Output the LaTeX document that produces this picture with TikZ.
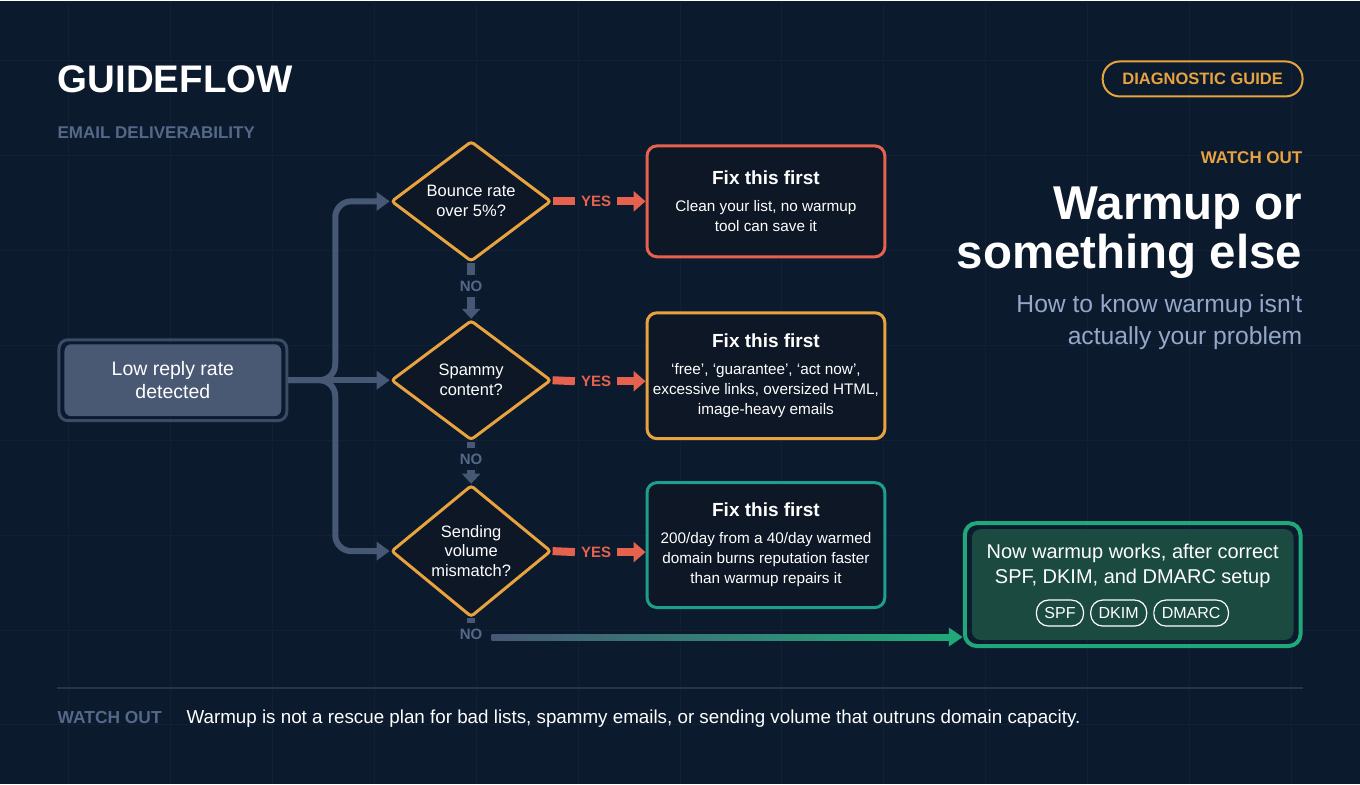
\documentclass[tikz,border=0pt]{standalone}
\usepackage{fontspec}
\setmainfont{Liberation Sans}[Ligatures=TeXOff]
\usepackage{tikz}
\usetikzlibrary{shapes,arrows.meta,positioning,calc,backgrounds}
\definecolor{pagebg}{RGB}{12,26,46}
\definecolor{gridline}{RGB}{18,32,53}
\definecolor{slateline}{RGB}{70,88,116}
\definecolor{slatetext}{RGB}{84,104,136}
\definecolor{startfill}{RGB}{73,89,115}
\definecolor{startedge}{RGB}{58,75,102}
\definecolor{boxfill}{RGB}{14,23,37}
\definecolor{warnorange}{RGB}{232,163,62}
\definecolor{yescoral}{RGB}{230,98,78}
\definecolor{fixteal}{RGB}{30,158,140}
\definecolor{okgreen}{RGB}{33,168,120}
\definecolor{okfill}{RGB}{27,74,64}
\definecolor{subtext}{RGB}{150,168,200}
\definecolor{sepline}{RGB}{38,52,76}
\newcommand{\sz}[2]{\fontsize{#1}{#2}\selectfont}
\newcommand{\fixhead}{{\bfseries\sz{19}{20}Fix this first}}

\begin{document}
\begin{tikzpicture}[x=1pt, y=-1pt,
    flow/.style={draw=slateline, line width=6pt, -{Triangle[length=13pt,width=18pt]}},
    decision/.style={diamond, draw=warnorange, line width=3pt, fill=boxfill, rounded corners=3pt,
        minimum width=160pt, minimum height=120pt, inner sep=0pt, align=center, text=white,
        font=\sz{16.5}{20}},
    fixbox/.style={rectangle, draw=#1, line width=3pt, rounded corners=10pt, fill=boxfill,
        minimum width=238pt, align=center, text=white, font=\sz{15.3}{20}},
    yeslabel/.style={font=\bfseries\sz{15}{18}, text=yescoral, inner xsep=6pt, inner ysep=0pt},
    yesbar/.style={draw=yescoral, line width=8pt},
    yesarrow/.style={draw=yescoral, line width=8pt, -{Triangle[length=12pt,width=20pt]}},
    nolabel/.style={font=\bfseries\sz{15}{18}, text=slatetext, inner xsep=7pt, inner ysep=5.5pt,
        text height=11pt, text depth=0pt},
    nobar/.style={draw=slateline, line width=8pt},
    noarrow/.style={draw=slateline, line width=8pt, -{Triangle[length=10pt,width=18pt]}},
    pill/.style={draw=white, line width=1.2pt, rounded corners=12pt, minimum height=26pt,
        inner xsep=8pt, inner ysep=0pt, text=white, font=\sz{16}{18}}]

    % Page and faint grid
    \begin{scope}[on background layer]
        \fill[pagebg] (0,0) rectangle (1360,784);
        \foreach \k in {0,...,12}
            \draw[gridline, line width=1pt] ({68+102*\k},0) -- ++(0,784);
        \foreach \k in {0,...,7}
            \draw[gridline, line width=1pt] (0,{60+95*\k}) -- ++(1360,0);
    \end{scope}

    % Headings
    \node[anchor=base west, inner sep=0pt, font=\bfseries\sz{38.5}{40}, text=white] (brand) at (57,92) {GUIDEFLOW};
    \node[anchor=base west, inner sep=0pt, font=\bfseries\sz{17}{18}, text=slatetext] (topic) at (57,138) {EMAIL DELIVERABILITY};
    \node[draw=warnorange, line width=2pt, rounded corners=17pt, minimum width=200pt, minimum height=35pt,
        font=\bfseries\sz{16.5}{18}, text=warnorange] (badge) at (1203,78.5) {DIAGNOSTIC GUIDE};
    \node[anchor=base east, inner sep=0pt, font=\bfseries\sz{17}{18}, text=warnorange] (kicker) at (1303,163) {WATCH OUT};
    \node[anchor=east, inner sep=0pt, align=right, font=\bfseries\sz{47.5}{49}, text=white] (headline) at (1303,232) {Warmup or\\something else};
    \node[anchor=east, inner sep=0pt, align=right, font=\sz{24.7}{32}, text=subtext] (subline) at (1303,322) {How to know warmup isn't\\actually your problem};

    % Start node
    \node[draw=startedge, line width=3pt, rounded corners=9pt, minimum width=228pt, minimum height=81pt,
        align=center, text=white, font=\sz{19.5}{23}] (start) at (172.5,380) {Low reply rate\\detected};

    % Decisions
    \node[decision] (d1) at (471,201) {Bounce rate\\over 5\%?};
    \node[decision] (d2) at (471,380) {Spammy\\content?};
    \node[decision] (d3) at (471,551) {Sending\\volume\\mismatch?};

    % Fix boxes
    \node[fixbox=yescoral, minimum height=111pt] (fix1) at (766,201) {\fixhead\\[7pt]Clean your list, no warmup\\tool can save it};
    \node[fixbox=warnorange, minimum height=126pt] (fix2) at (766,375.5) {\fixhead\\[7pt]‘free’, ‘guarantee’, ‘act now’,\\excessive links, oversized HTML,\\image-heavy emails};
    \node[fixbox=fixteal, minimum height=125pt] (fix3) at (766,545) {\fixhead\\[7pt]200/day from a 40/day warmed\\domain burns reputation faster\\than warmup repairs it};

    % Final box
    \node[draw=okgreen, line width=4pt, rounded corners=12pt, minimum width=336pt, minimum height=123pt] (fin) at (1133,584.5) {};
    \node[align=center, text=white, font=\sz{20}{25}] (fintext) at (1133,566) {Now warmup works, after correct\\SPF, DKIM, and DMARC setup};
    \node[pill] (dkim) at (1119,613) {DKIM};
    \node[pill, left=6pt of dkim] (spf) {SPF};
    \node[pill, right=6pt of dkim] (dmarc) {DMARC};

    % Box fills behind the text
    \begin{scope}[on background layer]
        \fill[startfill, rounded corners=7pt] ($(start.north west)+(7,6)$) rectangle ($(start.south east)+(-7,-6)$);
        \fill[okfill, rounded corners=9pt] ($(fin.north west)+(9,8)$) rectangle ($(fin.south east)+(-9,-8)$);
    \end{scope}

    % Fork from the start node
    \draw[flow] (start.east) -- (d2.west);
    \draw[flow, rounded corners=16pt] (start.east) -- ++(47,0) |- (d1.west);
    \draw[flow, rounded corners=16pt] (start.east) -- ++(47,0) |- (d3.west);

    % YES branches
    \node[yeslabel] (y1) at (596,201) {YES};
    \node[yeslabel] (y2) at (596,381) {YES};
    \node[yeslabel] (y3) at (596,552) {YES};
    \draw[yesbar] (d1.east) -- (y1.west);
    \draw[yesbar] (d2.east) -- (y2.west);
    \draw[yesbar] (d3.east) -- (y3.west);
    \draw[yesarrow] (y1.east) -- (y1.east -| fix1.west);
    \draw[yesarrow] (y2.east) -- (y2.east -| fix2.west);
    \draw[yesarrow] (y3.east) -- (y3.east -| fix3.west);

    % NO branches
    \node[nolabel] (n1) at (471,286) {NO};
    \node[nolabel] (n2) at (471,459) {NO};
    \node[nolabel] (n3) at (471,634) {NO};
    \draw[nobar] (d1.south) -- (n1.north);
    \draw[noarrow] (n1.south) -- (d2.north);
    \draw[nobar] (d2.south) -- (n2.north);
    \draw[noarrow] (n2.south) -- (d3.north);
    \draw[nobar] (d3.south) -- (n3.north);

    % Last NO runs on to the final box
    \coordinate (gostart) at ($(n3.east)+(2,3)$);
    \coordinate (goend) at (gostart -| fin.west);
    \shade[left color=slateline, right color=okgreen] ($(gostart)+(0,-3)$) rectangle ($(goend)+(-14,3)$);
    \draw[okgreen, line width=6pt, -{Triangle[length=14pt,width=18pt]}] ($(goend)+(-18,0)$) -- (goend);

    % Footer
    \draw[sepline, line width=1.5pt] (57,688) -- (1303,688);
    \node[anchor=base west, inner sep=0pt, font=\bfseries\sz{17.4}{18}, text=slatetext] (footkey) at (57,724) {WATCH OUT};
    \node[anchor=base west, inner sep=0pt, font=\sz{18.8}{20}, text=white] (foottext) at (186,724) {Warmup is not a rescue plan for bad lists, spammy emails, or sending volume that outruns domain capacity.};
\end{tikzpicture}
\end{document}
